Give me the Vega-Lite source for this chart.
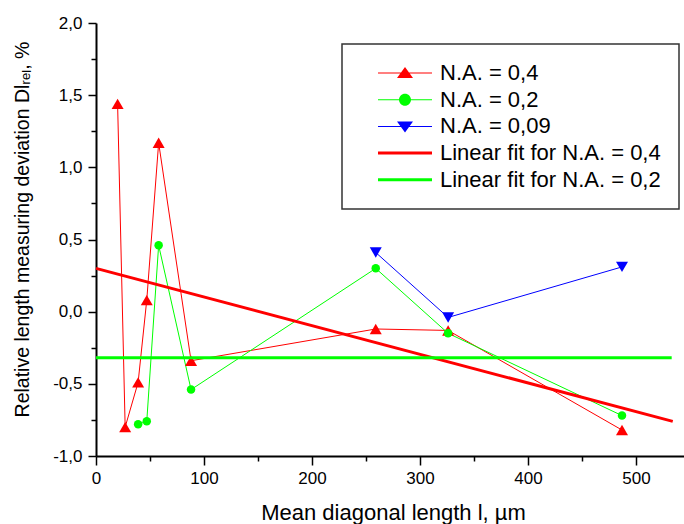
{
  "$schema": "https://vega.github.io/schema/vega-lite/v6.json",
  "width": 588,
  "height": 433,
  "autosize": "none",
  "padding": {"left": 96, "top": 23, "right": 0, "bottom": 68},
  "background": "white",
  "config": {
    "view": {"stroke": null},
    "font": "Liberation Sans",
    "axis": {"labelFont": "Liberation Sans", "titleFont": "Liberation Sans"},
    "legend": {"strokeWidth": 1.5}
  },
  "data": {
    "values": [
      {"s": "N.A. = 0,4", "k": "d", "x": 20, "y": 1.44},
      {"s": "N.A. = 0,4", "k": "d", "x": 27, "y": -0.80},
      {"s": "N.A. = 0,4", "k": "d", "x": 39, "y": -0.49},
      {"s": "N.A. = 0,4", "k": "d", "x": 47, "y": 0.08},
      {"s": "N.A. = 0,4", "k": "d", "x": 58, "y": 1.17},
      {"s": "N.A. = 0,4", "k": "d", "x": 88, "y": -0.34},
      {"s": "N.A. = 0,4", "k": "d", "x": 259, "y": -0.12},
      {"s": "N.A. = 0,4", "k": "d", "x": 326, "y": -0.13},
      {"s": "N.A. = 0,4", "k": "d", "x": 487, "y": -0.82},
      {"s": "N.A. = 0,2", "k": "d", "x": 39, "y": -0.78},
      {"s": "N.A. = 0,2", "k": "d", "x": 47, "y": -0.76},
      {"s": "N.A. = 0,2", "k": "d", "x": 58, "y": 0.46},
      {"s": "N.A. = 0,2", "k": "d", "x": 88, "y": -0.54},
      {"s": "N.A. = 0,2", "k": "d", "x": 259, "y": 0.30},
      {"s": "N.A. = 0,2", "k": "d", "x": 326, "y": -0.15},
      {"s": "N.A. = 0,2", "k": "d", "x": 487, "y": -0.72},
      {"s": "N.A. = 0,09", "k": "d", "x": 259, "y": 0.41},
      {"s": "N.A. = 0,09", "k": "d", "x": 326, "y": -0.04},
      {"s": "N.A. = 0,09", "k": "d", "x": 487, "y": 0.31},
      {"s": "Linear fit for N.A. = 0,4", "k": "f", "x": 0, "y": 0.30},
      {"s": "Linear fit for N.A. = 0,4", "k": "f", "x": 534, "y": -0.76},
      {"s": "Linear fit for N.A. = 0,2", "k": "f", "x": 0, "y": -0.32},
      {"s": "Linear fit for N.A. = 0,2", "k": "f", "x": 533, "y": -0.32}
    ]
  },
  "encoding": {
    "x": {
      "field": "x", "type": "quantitative",
      "scale": {"domain": [0, 544.4], "nice": false, "zero": false},
      "axis": {
        "values": [0, 50, 100, 150, 200, 250, 300, 350, 400, 450, 500],
        "labelExpr": "datum.value % 100 === 0 ? datum.label : ''",
        "tickSize": {"condition": {"test": "datum.value % 100 === 0", "value": 9}, "value": 5},
        "grid": false, "labelOverlap": false, "labelFlush": false,
        "domainColor": "black", "domainWidth": 2, "tickColor": "black", "tickWidth": 1.5,
        "labelFontSize": 17, "labelColor": "black", "labelPadding": 5,
        "title": "Mean diagonal length l, µm",
        "titleFontSize": 22, "titleFontWeight": "normal", "titleColor": "black",
        "titleX": 297, "titleY": 63, "titleBaseline": "alphabetic", "titleAlign": "center"
      }
    },
    "y": {
      "field": "y", "type": "quantitative",
      "scale": {"domain": [-1, 2], "nice": false, "zero": false},
      "axis": {
        "values": [-1, -0.75, -0.5, -0.25, 0, 0.25, 0.5, 0.75, 1, 1.25, 1.5, 1.75, 2],
        "labelExpr": "abs(datum.value*2 - round(datum.value*2)) < 0.001 ? (datum.value < 0 ? '-' : '') + replace(format(abs(datum.value), '.1f'), '.', ',') : ''",
        "tickSize": {"condition": {"test": "abs(datum.value*2 - round(datum.value*2)) < 0.001", "value": 8}, "value": 5},
        "grid": false, "labelOverlap": false, "labelFlush": false,
        "domainColor": "black", "domainWidth": 2, "tickColor": "black", "tickWidth": 1.5,
        "labelFontSize": 17, "labelColor": "black", "labelPadding": 6,
        "title": "Relative length measuring deviation Dlᵣₑₗ, %",
        "titleFontSize": 19.5, "titleFontWeight": "normal", "titleColor": "black",
        "titleX": -74, "titleY": 206, "titleAngle": -90, "titleBaseline": "middle", "titleAlign": "center"
      }
    },
    "color": {
      "field": "s", "type": "nominal",
      "scale": {
        "domain": ["N.A. = 0,4", "N.A. = 0,2", "N.A. = 0,09", "Linear fit for N.A. = 0,4", "Linear fit for N.A. = 0,2"],
        "range": ["#ff0000", "#00ff00", "#0000ff", "#ff0000", "#00ff00"]
      },
      "legend": {
        "title": null, "orient": "none", "legendX": 246, "legendY": 21,
        "padding": 18, "strokeColor": "#333333", "fillColor": "white",
        "labelFontSize": 22, "labelFont": "Liberation Sans", "labelColor": "black", "labelLimit": 400, "labelOffset": 58,
        "symbolSize": 400, "rowPadding": 4.7, "symbolStrokeWidth": 0,
        "encoding": {
          "symbols": {
            "shape": {"value": {"expr": "datum.value === 'N.A. = 0,4' ? 'M0.7,-0.05H6.1V0.05H0.7Z M3.4,-0.6L4.2,0.5L2.6,0.5Z' : datum.value === 'N.A. = 0,2' ? 'M0.7,-0.05H6.1V0.05H0.7Z M4,0A0.6,0.6 0 1,1 2.8,0A0.6,0.6 0 1,1 4,0Z' : datum.value === 'N.A. = 0,09' ? 'M0.7,-0.05H6.1V0.05H0.7Z M2.6,-0.5L4.2,-0.5L3.4,0.6Z' : 'M0.7,-0.15H6.1V0.15H0.7Z'"}},
            "fill": {"value": {"expr": "scale('color', datum.value)"}},
            "opacity": {"value": 1}
          }
        }
      }
    }
  },
  "layer": [
    {
      "transform": [{"filter": "datum.k === 'd'"}],
      "mark": {"type": "line", "strokeWidth": 1}
    },
    {
      "transform": [{"filter": "datum.s === 'N.A. = 0,4'"}],
      "mark": {"type": "point", "filled": true, "opacity": 1, "strokeWidth": 0, "size": 144, "shape": "triangle-up"}
    },
    {
      "transform": [{"filter": "datum.s === 'N.A. = 0,2'"}],
      "mark": {"type": "point", "filled": true, "opacity": 1, "strokeWidth": 0, "size": 72, "shape": "circle"}
    },
    {
      "transform": [{"filter": "datum.s === 'N.A. = 0,09'"}],
      "mark": {"type": "point", "filled": true, "opacity": 1, "strokeWidth": 0, "size": 144, "shape": "triangle-down"}
    },
    {
      "transform": [{"filter": "datum.k === 'f'"}],
      "mark": {"type": "line", "strokeWidth": 3}
    }
  ]
}
